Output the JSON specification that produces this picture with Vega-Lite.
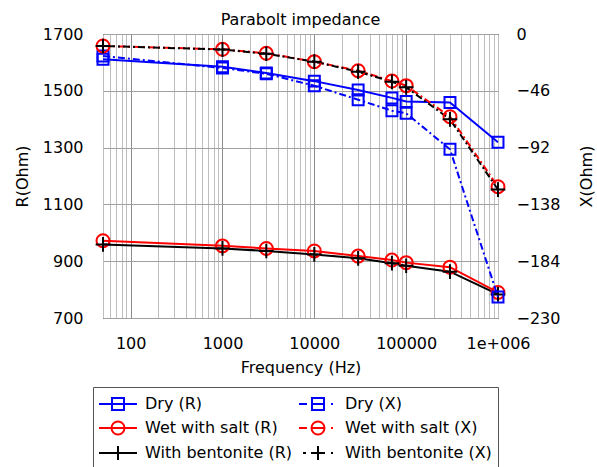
{
  "$schema": "https://vega.github.io/schema/vega-lite/v6.json",
  "width": 395,
  "height": 284,
  "autosize": {"type": "none"},
  "padding": {"left": 103, "top": 34, "right": 99, "bottom": 149},
  "background": "white",
  "config": {
    "font": "DejaVu Sans",
    "view": {"stroke": "black", "strokeWidth": 1},
    "axis": {
      "labelFontSize": 16, "titleFontSize": 16, "labelColor": "black", "titleColor": "black",
      "titleFontWeight": "normal", "ticks": false, "domain": false,
      "labelFont": "DejaVu Sans", "titleFont": "DejaVu Sans"
    }
  },
  "title": {"text": "Parabolt impedance", "fontSize": 16, "fontWeight": "normal", "font": "DejaVu Sans", "color": "black", "anchor": "middle", "frame": "group", "baseline": "alphabetic", "offset": 9, "dy": 24},
  "data": {"values": [
    {"f": 50, "series": "Dry (R)", "v": 1611},
    {"f": 1000, "series": "Dry (R)", "v": 1585},
    {"f": 3000, "series": "Dry (R)", "v": 1563},
    {"f": 10000, "series": "Dry (R)", "v": 1534},
    {"f": 30000, "series": "Dry (R)", "v": 1503},
    {"f": 70000, "series": "Dry (R)", "v": 1475},
    {"f": 100000, "series": "Dry (R)", "v": 1462},
    {"f": 300000, "series": "Dry (R)", "v": 1459},
    {"f": 1000000, "series": "Dry (R)", "v": 1319},
    {"f": 50, "series": "Dry (X)", "v": -17.8},
    {"f": 1000, "series": "Dry (X)", "v": -27.5},
    {"f": 3000, "series": "Dry (X)", "v": -32.2},
    {"f": 10000, "series": "Dry (X)", "v": -41.9},
    {"f": 30000, "series": "Dry (X)", "v": -53.2},
    {"f": 70000, "series": "Dry (X)", "v": -62.1},
    {"f": 100000, "series": "Dry (X)", "v": -64.2},
    {"f": 300000, "series": "Dry (X)", "v": -93.4},
    {"f": 1000000, "series": "Dry (X)", "v": -213},
    {"f": 50, "series": "Wet with salt (R)", "v": 972},
    {"f": 1000, "series": "Wet with salt (R)", "v": 954},
    {"f": 3000, "series": "Wet with salt (R)", "v": 945},
    {"f": 10000, "series": "Wet with salt (R)", "v": 936},
    {"f": 30000, "series": "Wet with salt (R)", "v": 918},
    {"f": 70000, "series": "Wet with salt (R)", "v": 904},
    {"f": 100000, "series": "Wet with salt (R)", "v": 895},
    {"f": 300000, "series": "Wet with salt (R)", "v": 879},
    {"f": 1000000, "series": "Wet with salt (R)", "v": 790},
    {"f": 50, "series": "Wet with salt (X)", "v": -9.7},
    {"f": 1000, "series": "Wet with salt (X)", "v": -12.4},
    {"f": 3000, "series": "Wet with salt (X)", "v": -15.6},
    {"f": 10000, "series": "Wet with salt (X)", "v": -22.4},
    {"f": 30000, "series": "Wet with salt (X)", "v": -29.7},
    {"f": 70000, "series": "Wet with salt (X)", "v": -38.1},
    {"f": 100000, "series": "Wet with salt (X)", "v": -41.8},
    {"f": 300000, "series": "Wet with salt (X)", "v": -67},
    {"f": 1000000, "series": "Wet with salt (X)", "v": -123.7},
    {"f": 50, "series": "With bentonite (R)", "v": 959},
    {"f": 1000, "series": "With bentonite (R)", "v": 945},
    {"f": 3000, "series": "With bentonite (R)", "v": 936},
    {"f": 10000, "series": "With bentonite (R)", "v": 924},
    {"f": 30000, "series": "With bentonite (R)", "v": 910},
    {"f": 70000, "series": "With bentonite (R)", "v": 893},
    {"f": 100000, "series": "With bentonite (R)", "v": 884},
    {"f": 300000, "series": "With bentonite (R)", "v": 863},
    {"f": 1000000, "series": "With bentonite (R)", "v": 783},
    {"f": 50, "series": "With bentonite (X)", "v": -9.7},
    {"f": 1000, "series": "With bentonite (X)", "v": -12.6},
    {"f": 3000, "series": "With bentonite (X)", "v": -16},
    {"f": 10000, "series": "With bentonite (X)", "v": -22.4},
    {"f": 30000, "series": "With bentonite (X)", "v": -30.5},
    {"f": 70000, "series": "With bentonite (X)", "v": -38.7},
    {"f": 100000, "series": "With bentonite (X)", "v": -43.2},
    {"f": 300000, "series": "With bentonite (X)", "v": -69.1},
    {"f": 1000000, "series": "With bentonite (X)", "v": -126}
  ]},
  "encoding": {
    "x": {
      "field": "f", "type": "quantitative",
      "scale": {"type": "log", "domain": [50, 1000000], "nice": false},
      "axis": {
        "values": [50,60,70,80,90,100,200,300,400,500,600,700,800,900,1000,2000,3000,4000,5000,6000,7000,8000,9000,10000,20000,30000,40000,50000,60000,70000,80000,90000,100000,200000,300000,400000,500000,600000,700000,800000,900000,1000000],
        "labelExpr": "datum.value == 1000000 ? '1e+006' : (indexof([100,1000,10000,100000], datum.value) >= 0 ? format(datum.value, 'd') : '')",
        "grid": true,
        "gridColor": {"condition": {"test": "indexof([100,1000,10000,100000], datum.value) >= 0", "value": "#8c8c8c"}, "value": "#bebebe"},
        "labelOverlap": false,
        "labelFlush": false,
        "labelPadding": 17,
        "title": "Frequency (Hz)",
        "titlePadding": 8
      }
    }
  },
  "layer": [
    {
      "transform": [{"filter": "indexof(datum.series, '(R)') >= 0"}],
      "encoding": {
        "y": {
          "field": "v", "type": "quantitative",
          "scale": {"domain": [700, 1700], "nice": false, "zero": false},
          "axis": {"orient": "left", "values": [700, 900, 1100, 1300, 1500, 1700], "format": "d", "grid": true, "gridColor": "#a0a0a0", "title": "R(Ohm)", "labelPadding": 20, "titlePadding": 12}
        },
        "color": {
          "field": "series", "type": "nominal",
          "scale": {"domain": ["Dry (R)", "Wet with salt (R)", "With bentonite (R)"], "range": ["#0000ff", "#ff0000", "#000000"]},
          "legend": null
        }
      },
      "layer": [
        {"mark": {"type": "line", "strokeWidth": 2}},
        {
          "mark": {"type": "point", "filled": false, "strokeWidth": 2, "opacity": 1},
          "encoding": {
            "shape": {"field": "series", "type": "nominal", "scale": {"domain": ["Dry (R)", "Wet with salt (R)", "With bentonite (R)"], "range": ["square", "circle", "M-1,0H1M0,-1V1"]}, "legend": null},
            "size": {"field": "series", "type": "nominal", "scale": {"domain": ["Dry (R)", "Wet with salt (R)", "With bentonite (R)"], "range": [120, 216, 256]}, "legend": null}
          }
        }
      ]
    },
    {
      "transform": [{"filter": "indexof(datum.series, '(X)') >= 0"}],
      "encoding": {
        "y": {
          "field": "v", "type": "quantitative",
          "scale": {"domain": [-230, 0], "nice": false, "zero": false},
          "axis": {"orient": "right", "values": [0, -46, -92, -138, -184, -230], "format": "d", "grid": false, "title": "X(Ohm)", "titleAngle": 270, "labelPadding": 18, "titlePadding": 35}
        },
        "color": {
          "field": "series", "type": "nominal",
          "scale": {"domain": ["Dry (X)", "Wet with salt (X)", "With bentonite (X)"], "range": ["#0000ff", "#ff0000", "#000000"]},
          "legend": null
        }
      },
      "layer": [
        {
          "mark": {"type": "line", "strokeWidth": 2},
          "encoding": {
            "strokeDash": {"field": "series", "type": "nominal", "scale": {"domain": ["Dry (X)", "Wet with salt (X)", "With bentonite (X)"], "range": [[7, 3, 2, 3], [7, 3, 2, 3], [2, 3, 7, 3]]}, "legend": null}
          }
        },
        {
          "mark": {"type": "point", "filled": false, "strokeWidth": 2, "opacity": 1},
          "encoding": {
            "shape": {"field": "series", "type": "nominal", "scale": {"domain": ["Dry (X)", "Wet with salt (X)", "With bentonite (X)"], "range": ["square", "circle", "M-1,0H1M0,-1V1"]}, "legend": null},
            "size": {"field": "series", "type": "nominal", "scale": {"domain": ["Dry (X)", "Wet with salt (X)", "With bentonite (X)"], "range": [120, 216, 256]}, "legend": null}
          }
        }
      ]
    },
    {
      "mark": {"type": "point", "filled": false, "opacity": 0},
      "encoding": {
        "x": {"field": "f", "type": "quantitative"},
        "shape": {
          "field": "series", "type": "nominal",
          "scale": {
            "domain": ["Dry (R)", "Dry (X)", "Wet with salt (R)", "Wet with salt (X)", "With bentonite (R)", "With bentonite (X)"],
            "range": [
              "M-1.9,0H1.9M-0.6,-0.6H0.6V0.6H-0.6Z",
              "M-1.9,0H-1.1M-0.6,0H0.6M1.3,0H1.5M-0.6,-0.6H0.6V0.6H-0.6Z",
              "M-1.9,0H1.9M-0.65,0A0.65,0.65 0 1,0 0.65,0A0.65,0.65 0 1,0 -0.65,0",
              "M-1.9,0H-1.1M-0.65,0H0.65M1.3,0H1.5M-0.65,0A0.65,0.65 0 1,0 0.65,0A0.65,0.65 0 1,0 -0.65,0",
              "M-1.9,0H1.9M0,-0.7V0.7",
              "M-1.5,0H-1.2M-0.7,0H0.7M1.3,0H1.5M0,-0.7V0.7"
            ]
          },
          "legend": {"title": null, "orient": "none", "direction": "horizontal", "legendX": -10, "legendY": 353, "columns": 2, "symbolSize": 400, "symbolStrokeWidth": 2, "symbolOpacity": 1, "symbolOffset": 8, "labelFontSize": 16, "labelFont": "DejaVu Sans", "labelColor": "black", "strokeColor": "#555555", "padding": 6, "rowPadding": 3, "columnPadding": 2, "labelOffset": 16, "labelLimit": 300}
        },
        "color": {
          "field": "series", "type": "nominal",
          "scale": {
            "domain": ["Dry (R)", "Dry (X)", "Wet with salt (R)", "Wet with salt (X)", "With bentonite (R)", "With bentonite (X)"],
            "range": ["#0000ff", "#0000ff", "#ff0000", "#ff0000", "#000000", "#000000"]
          },
          "legend": {"title": null, "orient": "none", "direction": "horizontal", "legendX": -10, "legendY": 353, "columns": 2, "symbolSize": 400, "symbolStrokeWidth": 2, "symbolOpacity": 1, "symbolOffset": 8, "labelFontSize": 16, "labelFont": "DejaVu Sans", "labelColor": "black", "strokeColor": "#555555", "padding": 6, "rowPadding": 3, "columnPadding": 2, "labelOffset": 16, "labelLimit": 300}
        }
      }
    }
  ],
  "resolve": {"scale": {"y": "independent", "color": "independent", "shape": "independent", "size": "independent", "strokeDash": "independent"}}
}
